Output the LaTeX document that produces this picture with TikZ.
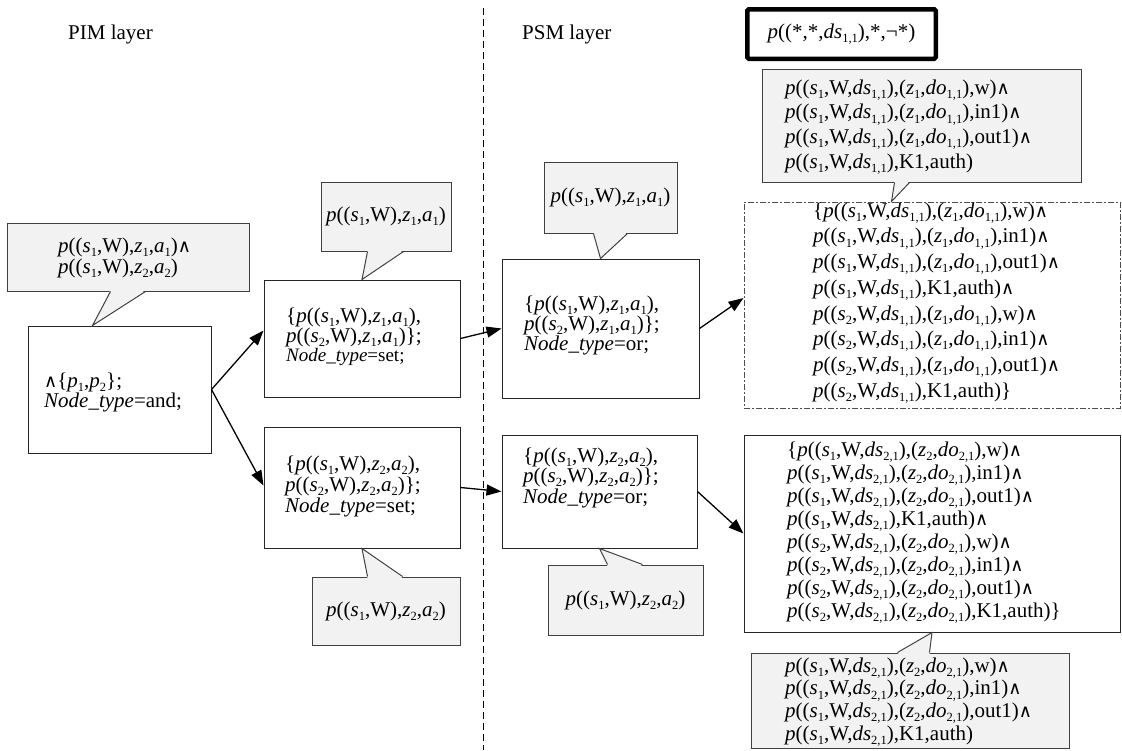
\documentclass[tikz,border=0pt]{standalone}
\usepackage{fontspec}
\setmainfont{Liberation Serif}
\newfontfamily\symf{DejaVu Sans}
\usetikzlibrary{arrows.meta,calc}
\definecolor{cfill}{HTML}{F2F2F2}
\newcommand\sbx[1]{\raisebox{-0.2em}{\fontsize{12.5}{12.5}\selectfont\upshape #1}}
\newcommand\vP{\textit{p}}
\newcommand\vS[1]{\textit{s}\sbx{#1}}
\newcommand\vZ[1]{\textit{z}\sbx{#1}}
\newcommand\vA[1]{\textit{a}\sbx{#1}}
\newcommand\vDS[1]{\textit{ds}\sbx{#1}}
\newcommand\vDO[1]{\textit{do}\sbx{#1}}
\newcommand\wdg{\hbox{\symf\fontsize{18}{18}\selectfont ∧}}
\newcommand\lw[4]{\vP((\vS{#1},W,\vDS{#2}),(\vZ{#3},\vDO{#2}),#4)}
\newcommand\lk[2]{\vP((\vS{#1},W,\vDS{#2}),K1,auth)}
\newcommand\pzw[3]{\vP((\vS{#1},W),\vZ{#2},\vA{#3})}
\newcommand\tb[2]{\vbox{\baselineskip=#1pt\lineskiplimit=-50pt\lineskip=0pt\halign{##\hfil\cr#2\crcr}}}
\tikzset{
  boxn/.style={draw=black!85, line width=1pt, inner sep=0pt},
  callbox/.style={draw=black!75, fill=cfill, line width=1pt, inner sep=0pt, font=\fontsize{21}{21}\selectfont},
  callline/.style={draw=black!75, line width=1pt, line join=miter},
  txt/.style={inner sep=0pt, anchor=west, font=\fontsize{21}{21}\selectfont},
  arr/.style={line width=1.3pt, -{Triangle[length=15pt,width=11pt]}},
  dashbox/.style={draw=black!70, line width=1pt, inner sep=0pt, dash pattern=on 6pt off 2pt on 2pt off 2pt},
  thickbox/.style={draw=black, line width=4.5pt, rounded corners=1.5pt, inner sep=0pt, font=\fontsize{21}{21}\selectfont}
}
\begin{document}
\begin{tikzpicture}[x=1pt,y=-1pt]
\useasboundingbox (0,0) rectangle (1122,750);

% labels and divider
\node[txt] (pim) at (68,34) {PIM layer};
\node[txt] (psm) at (522,34) {PSM layer};
\coordinate (divtop) at (483,8);
\coordinate (divbot) at (483,750);
\draw[line width=1pt, dash pattern=on 7pt off 4pt] (divtop) -- (divbot);

% main boxes
\node[boxn, minimum width=183, minimum height=127] (leftbox) at (119.5,389.5) {};
\node[boxn, minimum width=196, minimum height=117] (setA) at (362,338.5) {};
\node[boxn, minimum width=196, minimum height=121] (setB) at (362,487.5) {};
\node[boxn, minimum width=197, minimum height=139] (orA) at (600.5,328.5) {};
\node[boxn, minimum width=195, minimum height=113] (orB) at (599.5,491.5) {};
\node[dashbox, minimum width=376, minimum height=206] (dbox) at (932,305) {};
\node[boxn, minimum width=376, minimum height=197] (bbox) at (932,533.5) {};
\node[thickbox, minimum width=188.5, minimum height=49.5] (thick) at (841.5,34) {\vP((*,*,\vDS{1,1}),*,¬*)};

% texts of main boxes
\node[txt] (leftboxt) at (44,392) {\tb{20}{\wdg\{\vP\sbx{1},\vP\sbx{2}\};\cr\textit{Node\_type}=and;}};
\node[txt] (setAt) at (286,337) {\tb{19.5}{\{\pzw{1}{1}{1},\cr\pzw{2}{1}{1}\};\cr\fontsize{19}{19}\selectfont\textit{Node\_type}=set;}};
\node[txt] (setBt) at (285,486) {\tb{21}{\{\pzw{1}{2}{2},\cr\pzw{2}{2}{2}\};\cr\textit{Node\_type}=set;}};
\node[txt] (orAt) at (524,325) {\tb{20}{\{\pzw{1}{1}{1},\cr\pzw{2}{1}{1}\};\cr\textit{Node\_type}=or;}};
\node[txt] (orBt) at (523,477.5) {\tb{20.5}{\{\pzw{1}{2}{2},\cr\pzw{2}{2}{2}\};\cr\textit{Node\_type}=or;}};
\node[txt] (dboxt) at (813,303) {\tb{25.7}{\{\lw{1}{1,1}{1}{w}\wdg\cr
\lw{1}{1,1}{1}{in1}\wdg\cr
\lw{1}{1,1}{1}{out1}\wdg\cr
\lk{1}{1,1}\wdg\cr
\lw{2}{1,1}{1}{w}\wdg\cr
\lw{2}{1,1}{1}{in1}\wdg\cr
\lw{2}{1,1}{1}{out1}\wdg\cr
\lk{2}{1,1}\}}};
\node[txt] (bboxt) at (787,533) {\tb{23}{\{\lw{1}{2,1}{2}{w}\wdg\cr
\lw{1}{2,1}{2}{in1}\wdg\cr
\lw{1}{2,1}{2}{out1}\wdg\cr
\lk{1}{2,1}\wdg\cr
\lw{2}{2,1}{2}{w}\wdg\cr
\lw{2}{2,1}{2}{in1}\wdg\cr
\lw{2}{2,1}{2}{out1}\wdg\cr
\lw{2}{2,1}{2}{K1,auth}\}}};

% callouts
\node[callbox, minimum width=242, minimum height=68] (calL) at (128,257) {};
\node[callbox, minimum width=130, minimum height=69] (calSA) at (386,216.5) {\pzw{1}{1}{1}};
\node[callbox, minimum width=148, minimum height=68] (calSB) at (386,611) {\pzw{1}{2}{2}};
\node[callbox, minimum width=133, minimum height=71] (calOA) at (610.5,197.5) {\pzw{1}{1}{1}};
\node[callbox, minimum width=155, minimum height=70] (calOB) at (625.5,600) {\pzw{1}{2}{2}};
\node[callbox, minimum width=319, minimum height=113] (calTR) at (921.5,125.5) {};
\node[callbox, minimum width=318, minimum height=95] (calBR) at (910,700.5) {};

\node[txt] (calLt) at (58,257.5) {\tb{21}{\pzw{1}{1}{1}\wdg\cr\pzw{1}{2}{2}}};
\node[txt] (calTRt) at (785,127) {\tb{24.7}{\lw{1}{1,1}{1}{w}\wdg\cr
\lw{1}{1,1}{1}{in1}\wdg\cr
\lw{1}{1,1}{1}{out1}\wdg\cr
\lk{1}{1,1}}};
\node[txt] (calBRt) at (785,702) {\tb{22.7}{\lw{1}{2,1}{2}{w}\wdg\cr
\lw{1}{2,1}{2}{in1}\wdg\cr
\lw{1}{2,1}{2}{out1}\wdg\cr
\lk{1}{2,1}}};

% callout pointers
\fill[cfill] ($(calL.south west)+(104,-1.5)$) -- ($(leftbox.north west)+(65,0)$) -- ($(calL.south west)+(139,-1.5)$) -- cycle;
\draw[callline] ($(calL.south west)+(104,0)$) -- ($(leftbox.north west)+(65,0)$) -- ($(calL.south west)+(139,0)$);

\fill[cfill] ($(calSA.south west)+(47,-1.5)$) -- (setA.north) -- ($(calSA.south west)+(83,-1.5)$) -- cycle;
\draw[callline] ($(calSA.south west)+(47,0)$) -- (setA.north) -- ($(calSA.south west)+(83,0)$);

\fill[cfill] ($(calSB.north west)+(56,1.5)$) -- (setB.south) -- ($(calSB.north west)+(91,1.5)$) -- cycle;
\draw[callline] ($(calSB.north west)+(56,0)$) -- (setB.south) -- ($(calSB.north west)+(91,0)$);

\fill[cfill] ($(calOA.south west)+(50,-1.5)$) -- (orA.north) -- ($(calOA.south west)+(84,-1.5)$) -- cycle;
\draw[callline] ($(calOA.south west)+(50,0)$) -- (orA.north) -- ($(calOA.south west)+(84,0)$);

\fill[cfill] ($(calOB.north west)+(60,1.5)$) -- (orB.south) -- ($(calOB.north west)+(95,1.5)$) -- cycle;
\draw[callline] ($(calOB.north west)+(60,0)$) -- (orB.south) -- ($(calOB.north west)+(95,0)$);

\fill[cfill] ($(calTR.south west)+(133,-1.5)$) -- ($(dbox.north west)+(148,0)$) -- ($(calTR.south west)+(148,-1.5)$) -- cycle;
\draw[callline] ($(calTR.south west)+(133,0)$) -- ($(dbox.north west)+(148,0)$) -- ($(calTR.south west)+(148,0)$);

\fill[cfill] ($(calBR.north west)+(147,1.5)$) -- (bbox.south) -- ($(calBR.north west)+(179,1.5)$) -- cycle;
\draw[callline] ($(calBR.north west)+(147,0)$) -- (bbox.south) -- ($(calBR.north west)+(179,0)$);

% arrows
\draw[arr] (leftbox.east) -- ($(setA.west)+(0,-8)$);
\draw[arr] (leftbox.east) -- ($(setB.west)+(0,-2)$);
\draw[arr] (setA.east) -- (orA.west);
\draw[arr] (setB.east) -- (orB.west);
\draw[arr] (orA.east) -- ($(dbox.west)+(0,-7)$);
\draw[arr] (orB.east) -- (bbox.west);
\end{tikzpicture}
\end{document}
